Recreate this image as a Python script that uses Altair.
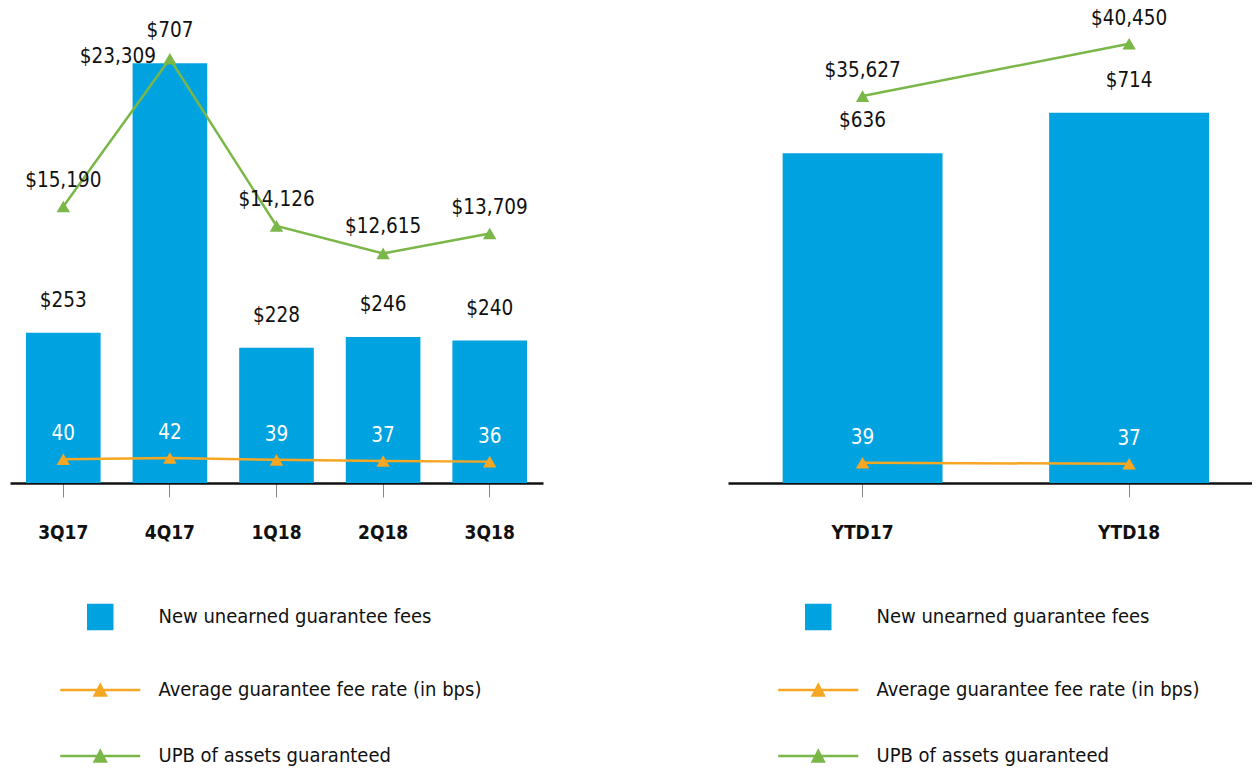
import altair as alt
import pandas as pd

# ---- data ----
quarters = ["3Q17", "4Q17", "1Q18", "2Q18", "3Q18"]
fees_q = [253, 707, 228, 246, 240]
rate_q = [40, 42, 39, 37, 36]
upb_q = [15190, 23309, 14126, 12615, 13709]

ytd = ["YTD17", "YTD18"]
fees_y = [636, 714]
rate_y = [39, 37]
upb_y = [35627, 40450]

series = ["New unearned guarantee fees",
          "Average guarantee fee rate (in bps)",
          "UPB of assets guaranteed"]

BLUE = "#00A3E0"
ORANGE = "#F5A623"
GREEN = "#7AB648"
FONT = "DejaVu Sans Condensed, Liberation Sans, sans-serif"
TXT = 20.5

SQUARE = "M-1.2,-1.2H1.2V1.2H-1.2Z"
LINE_TRI = "M-4,0H4M-0.55,0.55L0,-0.5L0.55,0.55Z"


def panel(cats, fees, rate, upb, width, bar_max, upb_max, p_outer, p_inner, align,
          hl_cat=None):
    df = pd.DataFrame({"cat": cats, "fees": fees, "rate": rate, "upb": upb})
    leg_df = pd.DataFrame({"series": series})

    x = alt.X("cat:N", sort=cats,
              scale=alt.Scale(paddingInner=p_inner, paddingOuter=p_outer, align=align),
              axis=alt.Axis(title=None, labelAngle=0, labelFont=FONT, labelFontSize=19,
                            labelFontWeight="bold", labelColor="#111111",
                            labelPadding=26, tickSize=14, tickColor="#888888",
                            tickWidth=1, domainColor="#111111", domainWidth=2.6,
                            grid=False))
    ybar = alt.Y("fees:Q", scale=alt.Scale(domain=[0, bar_max]), axis=None)
    base = alt.Chart(df)

    bars = base.mark_bar(color=BLUE).encode(x=x, y=ybar)
    bar_lbl = base.mark_text(dy=-32, font=FONT, fontSize=TXT, color="#111111").encode(
        x=x, y=ybar, text=alt.Text("fees:Q", format="$,.0f"))

    yrate = alt.Y("rate:Q", scale=alt.Scale(domain=[0, bar_max]), axis=None)
    rate_line = base.mark_line(color=ORANGE, strokeWidth=2.5).encode(x=x, y=yrate)
    rate_pts = base.mark_point(shape="triangle-up", filled=True, size=180, color=ORANGE,
                               opacity=1).encode(x=x, y=yrate)
    rate_lbl = base.mark_text(dy=-25, font=FONT, fontSize=TXT, color="white").encode(
        x=x, y=yrate, text=alt.Text("rate:Q"))

    yupb = alt.Y("upb:Q", scale=alt.Scale(domain=[0, upb_max]), axis=None)
    upb_line = base.mark_line(color=GREEN, strokeWidth=2.5).encode(x=x, y=yupb)
    upb_pts = base.mark_point(shape="triangle-up", filled=True, size=180, color=GREEN,
                              opacity=1).encode(x=x, y=yupb)
    if hl_cat is None:
        upb_lbl = base.mark_text(dy=-25, font=FONT, fontSize=TXT, color="#111111").encode(
            x=x, y=yupb, text=alt.Text("upb:Q", format="$,.0f"))
        upb_lbls = [upb_lbl]
    else:
        upb_lbl = base.transform_filter(alt.datum.cat != hl_cat).mark_text(
            dy=-26, font=FONT, fontSize=TXT, color="#111111").encode(
            x=x, y=yupb, text=alt.Text("upb:Q", format="$,.0f"))
        upb_lbl2 = base.transform_filter(alt.datum.cat == hl_cat).mark_text(
            dx=-52, dy=-2, font=FONT, fontSize=TXT, color="#111111").encode(
            x=x, y=yupb, text=alt.Text("upb:Q", format="$,.0f"))
        upb_lbls = [upb_lbl, upb_lbl2]

    leg = alt.Legend(title=None, orient="none", legendX=78.75, legendY=597.5,
                     direction="vertical", labelFont=FONT, labelFontSize=20,
                     labelColor="#111111", labelLimit=500, labelOffset=46.75,
                     rowPadding=44, symbolSize=400, symbolStrokeWidth=2.5,
                     padding=0, symbolOpacity=1)
    legend_layer = alt.Chart(leg_df).transform_filter("false").mark_point(
        filled=True, opacity=1).encode(
        fill=alt.Fill("series:N", scale=alt.Scale(domain=series, range=[BLUE, ORANGE, GREEN]), legend=leg),
        stroke=alt.Stroke("series:N", scale=alt.Scale(domain=series, range=[BLUE, ORANGE, GREEN]), legend=leg),
        shape=alt.Shape("series:N", scale=alt.Scale(domain=series, range=[SQUARE, LINE_TRI, LINE_TRI]), legend=leg),
    )

    layers = [bars, bar_lbl, rate_line, rate_pts, rate_lbl, upb_line, upb_pts] + upb_lbls + [legend_layer]
    return alt.layer(*layers).resolve_scale(y="independent").properties(width=width, height=475)


left = panel(quarters, fees_q, rate_q, upb_q, 533, 800, 26100, 0.15, 0.3, 0.5, hl_cat="4Q17")
right = panel(ytd, fees_y, rate_y, upb_y, 524, 916, 43738, 0.183, 0.4, 0.56)

chart = alt.hconcat(left, right, spacing=185).resolve_scale(
    fill="independent", stroke="independent", shape="independent", x="independent"
).resolve_legend(fill="independent", stroke="independent", shape="independent").properties(
    padding={"left": 2, "top": 0, "right": 0, "bottom": 0},
    background="white",
).configure_view(stroke=None)

chart.save("out.html", embed_options={"renderer": "svg", "actions": False})
